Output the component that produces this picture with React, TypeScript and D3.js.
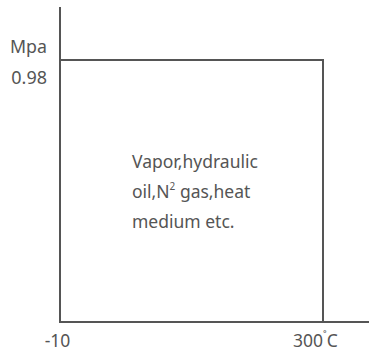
import React from "react";
import * as d3 from "d3";

const xTicks = [-10, 300];
const yTicks = [0.98];
const yUnit = "Mpa";
const xUnit = "˚C";
const mediumLines = ["Vapor,hydraulic", "oil,N|2| gas,heat", "medium etc."];

const W = 369;
const H = 353;

export default function App() {
  const x = d3.scaleLinear().domain([xTicks[0], xTicks[1]]).range([60, 323]);
  const y = d3.scaleLinear().domain([0, yTicks[0]]).range([322, 60]);
  const color = "#555";
  const font = "'Noto Sans', sans-serif";
  const rect = d3.path();
  rect.moveTo(x(xTicks[0]), y(yTicks[0]));
  rect.lineTo(x(xTicks[1]), y(yTicks[0]));
  rect.lineTo(x(xTicks[1]), y(0));
  return (
    <svg width={W} height={H} style={{ position: "absolute", left: 0, top: 0 }}>
      <rect width={W} height={H} fill="#fff" />
      <line x1={x(xTicks[0])} x2={x(xTicks[0])} y1={7} y2={y(0) + 1} stroke={color} strokeWidth={2} />
      <line x1={x(xTicks[0])} x2={W} y1={y(0)} y2={y(0)} stroke={color} strokeWidth={2} />
      <path d={rect.toString()} fill="none" stroke={color} strokeWidth={2} />
      <g fontFamily={font} fill={color} fontSize={18}>
        <text x={47} y={53} textAnchor="end" textLength={37} lengthAdjust="spacingAndGlyphs">{yUnit}</text>
        <text x={47} y={84} textAnchor="end">{yTicks[0]}</text>
        <text x={57.5} y={347} textAnchor="middle" fontSize={17.5}>{xTicks[0]}</text>
        <text x={293} y={347} fontSize={17.5}>
          {xTicks[1]}
          <tspan fontSize={12} dy={-6}>{xUnit[0]}</tspan>
          <tspan fontSize={17.5} dy={6}>{xUnit.slice(1)}</tspan>
        </text>
        {mediumLines.map((l, i) => {
          const parts = l.split("|");
          return (
            <text key={i} x={132} y={168 + i * 30} fontSize={17.5}>
              {parts.length === 1 ? (
                l
              ) : (
                <>
                  {parts[0]}
                  <tspan fontSize={10} dy={-8}>{parts[1]}</tspan>
                  <tspan dy={8}>{parts[2]}</tspan>
                </>
              )}
            </text>
          );
        })}
      </g>
    </svg>
  );
}
